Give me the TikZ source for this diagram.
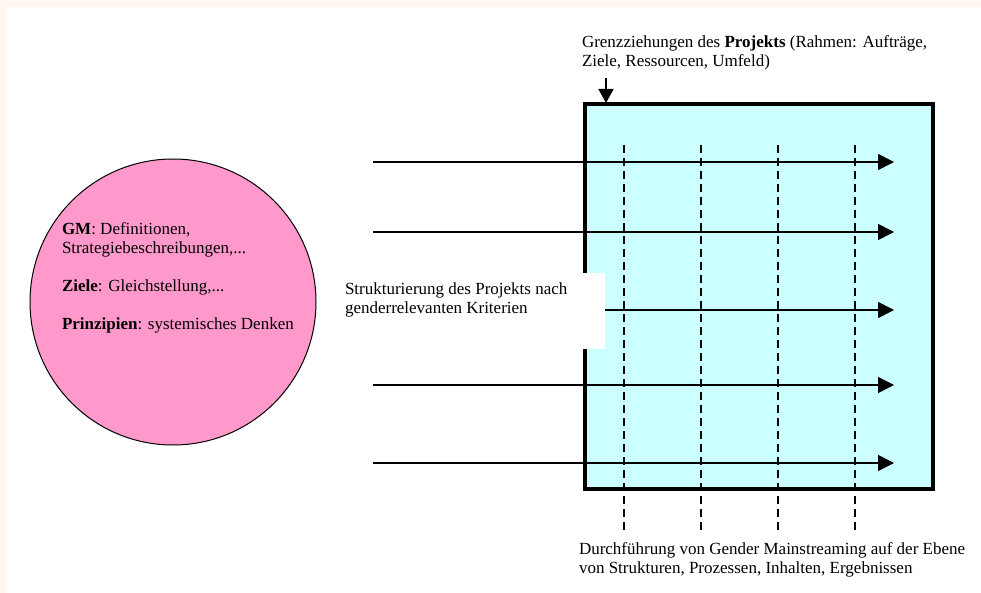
\documentclass[tikz,border=0pt]{standalone}
\usepackage{fontspec}
\setmainfont{Liberation Serif}
\usetikzlibrary{arrows.meta}
\definecolor{cream}{HTML}{FFF8F0}
\definecolor{gmpink}{HTML}{FF99CC}
\definecolor{boxcyan}{HTML}{CCFFFF}
\begin{document}
\begin{tikzpicture}[x=1pt,y=-1pt,
  every node/.style={inner sep=0pt,outer sep=0pt,font=\fontsize{17}{18.5}\selectfont},
  label/.style={anchor=north west,align=left},
  flow/.style={line width=1.6pt,-{Triangle[length=16pt,width=16pt]}},
  lane/.style={line width=1.8pt,dash pattern=on 8pt off 5pt},
  frame/.style={draw=black,line width=3.2pt,fill=boxcyan}]
  % page background with a light cream margin
  \fill[cream] (0,0) rectangle (981,593);
  \fill[white] (7,7) rectangle (981,593);
  \useasboundingbox (0,0) rectangle (981,593);

  % GM circle with its text
  \node[circle,draw=black,line width=1pt,fill=gmpink,minimum size=286pt] (gm) at (173,302) {};
  \node[label] (gmtext) at (62,223) {\textbf{GM}: Definitionen,\\
    Strategiebeschreibungen,...\\[20pt]
    \textbf{Ziele}: Gleichstellung,...\\[19pt]
    \textbf{Prinzipien}: systemisches Denken};

  % project frame
  \node[frame,minimum width=348pt,minimum height=385pt,anchor=north west] (proj) at (585,104) {};

  % dashed lanes
  \foreach \i/\x in {1/624,2/701,3/778,4/855}{
    \coordinate (lt\i) at (\x,145);
    \coordinate (lb\i) at (\x,530);
    \draw[lane] (lt\i) -- (lb\i);
  }

  % horizontal flows through the frame
  \foreach \i/\y in {1/162,2/232,3/310,4/385,5/463}{
    \coordinate (fs\i) at (373,\y);
    \coordinate (fe\i) at (894,\y);
    \draw[flow] (fs\i) -- (fe\i);
  }

  % boundary label and its pointer
  \node[label] (bound) at (582,36) {Grenzziehungen des \textbf{Projekts} (Rahmen: Aufträge,\\
    Ziele, Ressourcen, Umfeld)};
  \coordinate (bp) at (606,78);
  \coordinate (bt) at (606,103);
  \draw[line width=1.6pt,-{Triangle[length=14pt,width=15pt]}] (bp) -- (bt);

  % structuring label on a white patch
  \fill[white] (340,273) rectangle (605,349);
  \node[label] (struct) at (345,283) {Strukturierung des Projekts nach\\
    genderrelevanten Kriterien};

  % implementation label below the lanes
  \node[label] (impl) at (579,543) {Durchführung von Gender Mainstreaming auf der Ebene\\
    von Strukturen, Prozessen, Inhalten, Ergebnissen};
\end{tikzpicture}
\end{document}
